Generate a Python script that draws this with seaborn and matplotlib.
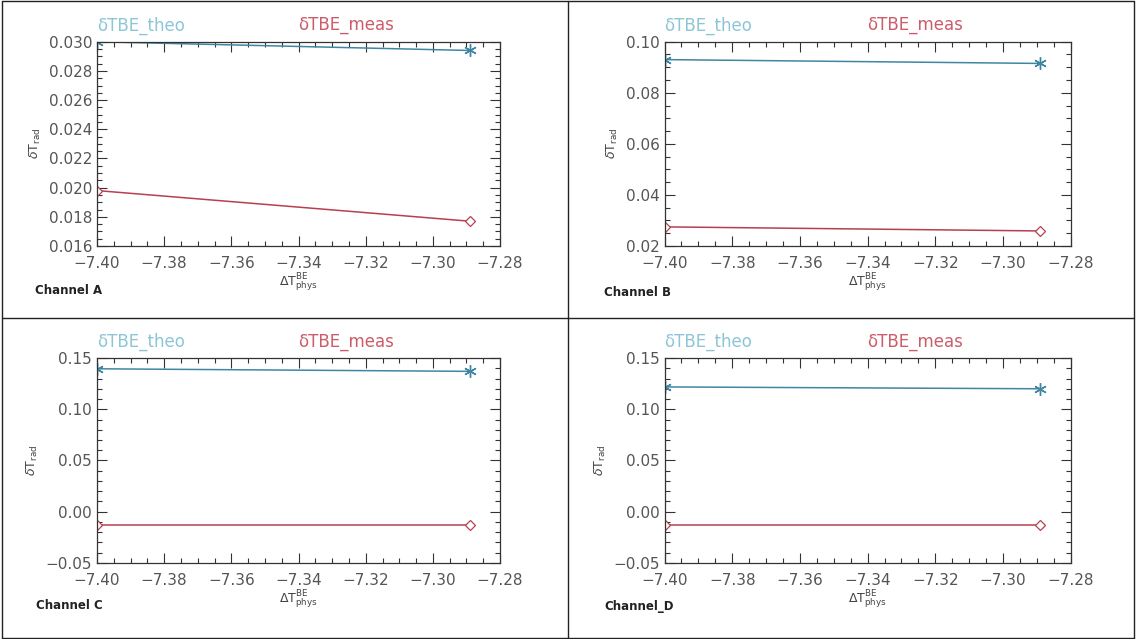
import matplotlib
matplotlib.use('Agg')
import matplotlib.pyplot as plt
import seaborn as sns
import pandas as pd
from matplotlib.ticker import AutoMinorLocator, MultipleLocator
from matplotlib.lines import Line2D

# values
x_phys = [-7.400, -7.289]
channels = ['Channel A', 'Channel B', 'Channel C', 'Channel_D']
theo_A = [0.0300, 0.0294]
meas_A = [0.0198, 0.0177]
theo_B = [0.0930, 0.0915]
meas_B = [0.0275, 0.0259]
theo_C = [0.1395, 0.1370]
meas_C = [-0.0130, -0.0130]
theo_D = [0.1218, 0.1200]
meas_D = [-0.0130, -0.0130]
ylims = [(0.016, 0.030), (0.02, 0.10), (-0.05, 0.15), (-0.05, 0.15)]
ysteps = [0.002, 0.02, 0.05, 0.05]
yminor = [4, 4, 5, 5]
yfmt = ['{:.3f}', '{:.2f}', '{:.2f}', '{:.2f}']
xticks = [-7.40, -7.38, -7.36, -7.34, -7.32, -7.30, -7.28]

theo_all = [theo_A, theo_B, theo_C, theo_D]
meas_all = [meas_A, meas_B, meas_C, meas_D]

sns.set_style('ticks')
plt.rcParams['font.family'] = ['DejaVu Sans']
plt.rcParams['mathtext.fontset'] = 'dejavusans'

fig = plt.figure(figsize=(11.36, 6.39), dpi=100)

# axes rectangles [left, bottom, width, height] in figure fraction
rects = [
    [0.0854, 0.615, 0.3548, 0.3197],
    [0.585, 0.615, 0.3575, 0.3197],
    [0.0854, 0.119, 0.3548, 0.3207],
    [0.585, 0.119, 0.3575, 0.3207],
]
chan_pos = [(0.031, 0.546), (0.532, 0.543), (0.032, 0.052), (0.532, 0.051)]

theo_col = '#3f86a3'
meas_col = '#b8404e'
asterisk = (6, 2, 0)

for i in range(4):
    ax = fig.add_axes(rects[i])
    df = pd.DataFrame({'x': x_phys + x_phys,
                       'y': theo_all[i] + meas_all[i],
                       'series': ['theo', 'theo', 'meas', 'meas']})
    sns.lineplot(data=df[df.series == 'theo'], x='x', y='y', ax=ax,
                 color=theo_col, lw=1.1, marker=asterisk, markersize=9,
                 markeredgecolor=theo_col, markeredgewidth=1.0)
    sns.lineplot(data=df[df.series == 'meas'], x='x', y='y', ax=ax,
                 color=meas_col, lw=1.1, marker='D', markersize=5,
                 markerfacecolor='white', markeredgecolor=meas_col,
                 markeredgewidth=0.9)
    ax.set_xlim(-7.40, -7.28)
    ax.set_ylim(*ylims[i])
    ax.set_xticks(xticks)
    ax.set_xticklabels(['\u2212{:.2f}'.format(abs(v)) for v in xticks])
    ax.yaxis.set_major_locator(MultipleLocator(ysteps[i]))
    ax.yaxis.set_major_formatter(
        plt.FuncFormatter(lambda v, p, f=yfmt[i]: f.format(v).replace('-', '\u2212')))
    ax.xaxis.set_minor_locator(AutoMinorLocator(4))
    ax.yaxis.set_minor_locator(AutoMinorLocator(yminor[i]))
    ax.tick_params(which='both', direction='in', top=True, right=True,
                   colors='#333333', labelcolor='#555555', labelsize=11, width=0.8)
    ax.tick_params(which='major', length=7)
    ax.tick_params(which='minor', length=3.5)
    ax.tick_params(axis='x', pad=7)
    for s in ax.spines.values():
        s.set_color('#333333')
        s.set_linewidth(0.9)
    ax.set_xlabel(r'$\Delta\mathrm{T}^{\mathrm{BE}}_{\mathrm{phys}}$', fontsize=9,
                  color='#444444', labelpad=1)
    ax.set_ylabel(r'$\delta\mathrm{T}_{\mathrm{rad}}$', fontsize=9,
                  color='#444444', labelpad=4)
    ax.text(0.0, 1.08, '\u03b4TBE_theo', transform=ax.transAxes, color='#8cc6d6',
            fontsize=12, va='center', ha='left')
    ax.text(0.5, 1.08, '\u03b4TBE_meas', transform=ax.transAxes, color='#cc5c6a',
            fontsize=12, va='center', ha='left')
    fig.text(chan_pos[i][0], chan_pos[i][1], channels[i], fontsize=8.5,
             fontweight='bold', color='#222222', va='center', ha='left')

# panel borders
for (x0, y0, x1, y1) in [(0.002, 0.998, 0.998, 0.998), (0.002, 0.002, 0.998, 0.002),
                         (0.002, 0.002, 0.002, 0.998), (0.998, 0.002, 0.998, 0.998),
                         (0.5, 0.002, 0.5, 0.998), (0.002, 0.502, 0.998, 0.502)]:
    fig.add_artist(Line2D([x0, x1], [y0, y1], color='#222222', lw=1.0,
                          transform=fig.transFigure))

fig.savefig('out.png', dpi=100)
